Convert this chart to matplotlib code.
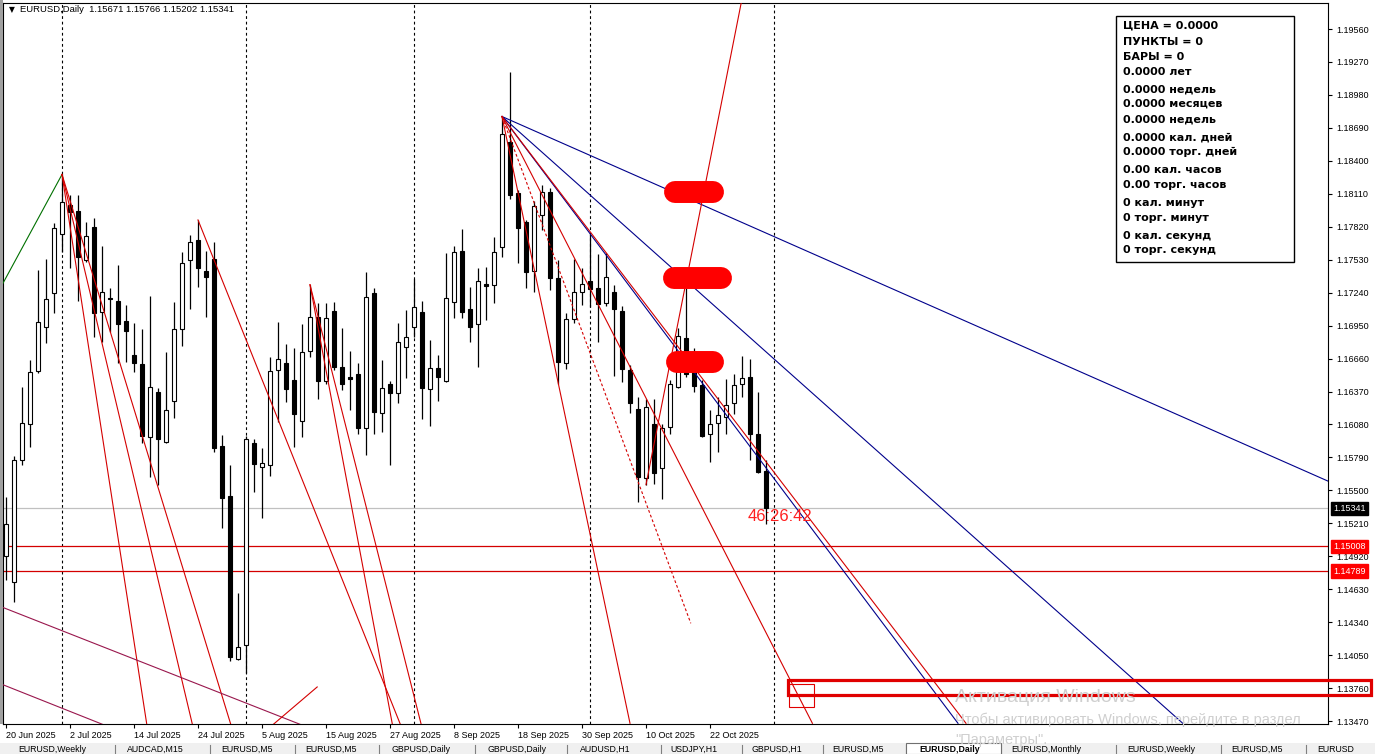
import matplotlib
matplotlib.use('Agg')
import matplotlib.pyplot as plt
import matplotlib.transforms as mtransforms
from matplotlib.patches import Rectangle
import pandas as pd

plt.rcParams['font.family'] = ['Liberation Sans', 'DejaVu Sans']

# daily candles EURUSD, first bar = 20 Jun 2025
opens = [1.1492, 1.1469, 1.1577, 1.1608, 1.1655, 1.1694, 1.1724, 1.1776, 1.1801, 1.1796,
         1.1753, 1.1782, 1.1707, 1.1719, 1.1717, 1.1699, 1.1669, 1.1661, 1.1597, 1.1637,
         1.1593, 1.1629, 1.1692, 1.1753, 1.1770, 1.1743, 1.1754, 1.1589, 1.1545, 1.1402,
         1.1414, 1.1592, 1.1571, 1.1572, 1.1656, 1.1662, 1.1647, 1.1611, 1.1673, 1.1703,
         1.1646, 1.1708, 1.1659, 1.1650, 1.1652, 1.1605, 1.1724, 1.1618, 1.1644, 1.1636,
         1.1676, 1.1694, 1.1707, 1.1639, 1.1658, 1.1646, 1.1716, 1.1761, 1.1710, 1.1696,
         1.1732, 1.1731, 1.1764, 1.1857, 1.1812, 1.1786, 1.1743, 1.1792, 1.1813, 1.1737,
         1.1662, 1.1701, 1.1725, 1.1734, 1.1728, 1.1715, 1.1725, 1.1708, 1.1656, 1.1622,
         1.1561, 1.1608, 1.1570, 1.1606, 1.1641, 1.1684, 1.1654, 1.1643, 1.1600, 1.1609,
         1.1615, 1.1627, 1.1644, 1.1650, 1.1600, 1.15671]
highs = [1.1544, 1.1580, 1.1641, 1.1665, 1.1744, 1.1754, 1.1785, 1.1828, 1.1810, 1.1810,
         1.1786, 1.1790, 1.1765, 1.1728, 1.1748, 1.1713, 1.1697, 1.1692, 1.1721, 1.1640,
         1.1672, 1.1716, 1.1760, 1.1775, 1.1788, 1.1761, 1.1769, 1.1599, 1.1572, 1.1460,
         1.1598, 1.1595, 1.1587, 1.1667, 1.1698, 1.1679, 1.1675, 1.1696, 1.1731, 1.1715,
         1.1715, 1.1716, 1.1693, 1.1673, 1.1662, 1.1742, 1.1728, 1.1665, 1.1646, 1.1697,
         1.1709, 1.1736, 1.1717, 1.1682, 1.1669, 1.1759, 1.1765, 1.1780, 1.1729, 1.1746,
         1.1747, 1.1773, 1.1879, 1.1918, 1.1814, 1.1788, 1.1805, 1.1819, 1.1816, 1.1753,
         1.1706, 1.1754, 1.1746, 1.1776, 1.1758, 1.1759, 1.1731, 1.1712, 1.1660, 1.1632,
         1.1630, 1.1630, 1.1608, 1.1647, 1.1693, 1.1728, 1.1675, 1.1647, 1.1621, 1.1632,
         1.1648, 1.1652, 1.1668, 1.1666, 1.1637, 1.15766]
lows = [1.1471, 1.1452, 1.1572, 1.1588, 1.1653, 1.1680, 1.1706, 1.1760, 1.1746, 1.1717,
        1.1751, 1.1685, 1.1681, 1.1689, 1.1662, 1.1663, 1.1654, 1.1592, 1.1562, 1.1555,
        1.1592, 1.1614, 1.1677, 1.1710, 1.1729, 1.1703, 1.1584, 1.1517, 1.1400, 1.1401,
        1.1389, 1.1549, 1.1526, 1.1563, 1.1610, 1.1628, 1.1588, 1.1597, 1.1667, 1.1630,
        1.1644, 1.1656, 1.1638, 1.1621, 1.1600, 1.1581, 1.1600, 1.1601, 1.1572, 1.1627,
        1.1649, 1.1685, 1.1613, 1.1607, 1.1629, 1.1645, 1.1702, 1.1702, 1.1681, 1.1659,
        1.1700, 1.1715, 1.1755, 1.1806, 1.1750, 1.1728, 1.1725, 1.1779, 1.1726, 1.1644,
        1.1657, 1.1697, 1.1713, 1.1711, 1.1681, 1.1712, 1.1651, 1.1645, 1.1618, 1.1540,
        1.1555, 1.1556, 1.1542, 1.1600, 1.1640, 1.1650, 1.1637, 1.1597, 1.1575, 1.1584,
        1.1600, 1.1617, 1.1632, 1.1577, 1.1565, 1.15202]
closes = [1.1520, 1.1577, 1.1609, 1.1654, 1.1698, 1.1718, 1.1781, 1.1804, 1.1795, 1.1755,
          1.1774, 1.1706, 1.1725, 1.1718, 1.1696, 1.1690, 1.1662, 1.1598, 1.1641, 1.1595,
          1.1621, 1.1692, 1.1750, 1.1769, 1.1746, 1.1738, 1.1587, 1.1543, 1.1403, 1.1412,
          1.1595, 1.1573, 1.1574, 1.1655, 1.1666, 1.1639, 1.1617, 1.1672, 1.1703, 1.1646,
          1.1702, 1.1659, 1.1644, 1.1648, 1.1605, 1.1720, 1.1619, 1.1640, 1.1636, 1.1681,
          1.1685, 1.1711, 1.1640, 1.1658, 1.1650, 1.1719, 1.1760, 1.1707, 1.1694, 1.1734,
          1.1730, 1.1760, 1.1864, 1.1810, 1.1781, 1.1742, 1.1800, 1.1813, 1.1737, 1.1663,
          1.1701, 1.1725, 1.1732, 1.1727, 1.1714, 1.1738, 1.1710, 1.1657, 1.1627, 1.1562,
          1.1623, 1.1565, 1.1605, 1.1644, 1.1686, 1.1652, 1.1642, 1.1598, 1.1608, 1.1616,
          1.1625, 1.1643, 1.1649, 1.1600, 1.1566, 1.15341]

price_ticks = [1.19560, 1.19270, 1.18980, 1.18690, 1.18400, 1.18110, 1.17820, 1.17530,
               1.17240, 1.16950, 1.16660, 1.16370, 1.16080, 1.15790, 1.15500, 1.15210,
               1.14920, 1.14630, 1.14340, 1.14050, 1.13760, 1.13470]
last_price = 1.15341
red_levels = [1.15008, 1.14789]

# trend lines: (bar0, price0, bar1, price1, color, style)
RED = '#d40000'
BLUE = '#00008b'
trend_lines = [
    (-0.4, 1.1732, 7, 1.1828, '#007000', '-'),
    (7, 1.1828, 17.6, 1.1344, RED, '-'),
    (7, 1.1828, 23.3, 1.1344, RED, '-'),
    (7, 1.1828, 28.1, 1.1344, RED, '-'),
    (24, 1.1788, 49.3, 1.1344, RED, '-'),
    (38, 1.1731, 48.3, 1.1344, RED, '-'),
    (38, 1.1731, 51.9, 1.1344, RED, '-'),
    (-0.4, 1.1447, 36.8, 1.1344, '#99174d', '-'),
    (-0.4, 1.1379, 12.1, 1.1344, '#99174d', '-'),
    (33.4, 1.1344, 38.9, 1.1377, RED, '-'),
    (62, 1.1879, 165.3, 1.1558, BLUE, '-'),
    (62, 1.1879, 147.1, 1.1345, BLUE, '-'),
    (62, 1.1879, 119, 1.1345, BLUE, '-'),
    (62, 1.1879, 120, 1.1345, RED, '-'),
    (62, 1.1879, 100.8, 1.1345, RED, '-'),
    (62, 1.1879, 78, 1.1345, RED, '-'),
    (62, 1.1879, 85.6, 1.1433, RED, (0, (2.5, 2))),
    (80, 1.1555, 91.9, 1.1979, RED, '-'),
]
# thick red marks (bar from, bar to, price)
pill_from = [83.6, 83.5, 83.9]
pill_to = [88.4, 89.4, 88.4]
pill_price = [1.1813, 1.1737, 1.1663]

info_lines = ['ЦЕНА = 0.0000', 'ПУНКТЫ = 0', 'БАРЫ = 0', '0.0000 лет', '0.0000 недель',
              '0.0000 месяцев', '0.0000 недель', '0.0000 кал. дней', '0.0000 торг. дней',
              '0.00 кал. часов', '0.00 торг. часов', '0 кал. минут', '0 торг. минут',
              '0 кал. секунд', '0 торг. секунд']
info_y = [26, 42, 57, 72, 89, 104, 119, 137, 152, 170, 185, 203, 218, 236, 250]

tabs = ['EURUSD,Weekly', 'AUDCAD,M15', 'EURUSD,M5', 'EURUSD,M5', 'GBPUSD,Daily',
        'GBPUSD,Daily', 'AUDUSD,H1', 'USDJPY,H1', 'GBPUSD,H1', 'EURUSD,M5',
        'EURUSD,Daily', 'EURUSD,Monthly', 'EURUSD,Weekly', 'EURUSD,M5', 'EURUSD']
tab_x = [18, 127, 221, 305, 391, 487, 580, 670, 751, 832, 919, 1011, 1127, 1231, 1317]
tab_sep = [115, 210, 295, 379, 475, 567, 661, 742, 823, 906, 1001, 1116, 1221, 1306]

W, H = 1375, 754
fig = plt.figure(figsize=(W / 100, H / 100), dpi=100)
fig.patch.set_facecolor('white')


def fx(px):
    return px / W


def fy(py):
    return 1 - py / H


ax = fig.add_axes([fx(3), 30 / H, 1325 / W, 721 / H])
ax.set_xlim(-0.375, 165.25)
ax.set_ylim(1.13444, 1.19789)

n = len(opens)
dates = pd.bdate_range('2025-06-20', periods=n + 1)
idx = list(range(n))

# month separators
for i in range(1, n + 1):
    if dates[i].month != dates[i - 1].month:
        ax.axvline(i, color='black', lw=0.8, ls=(0, (2.5, 2.5)), zorder=1)

ax.axhline(last_price, color='#c0c0c0', lw=0.9, zorder=1)
for lv in red_levels:
    ax.axhline(lv, color=RED, lw=0.9, zorder=1)

# candles
ax.vlines(idx, lows, highs, color='black', lw=0.9, zorder=3)
bottoms = [min(o, c) for o, c in zip(opens, closes)]
heights = [max(abs(c - o), 0.00002) for o, c in zip(opens, closes)]
faces = ['white' if c >= o else 'black' for o, c in zip(opens, closes)]
ax.bar(idx, heights, bottom=bottoms, width=0.55, color=faces, edgecolor='black',
       linewidth=0.8, zorder=4)

for x0, p0, x1, p1, col, ls in trend_lines:
    ax.plot([x0, x1], [p0, p1], color=col, lw=0.8, ls=ls, zorder=5)

for a, b, p in zip(pill_from, pill_to, pill_price):
    ax.plot([a, b], [p, p], color='#ff0000', lw=15.8, solid_capstyle='round', zorder=6)

# rectangles near 1.13760
ax.add_patch(Rectangle((97.75, 1.1370), 72.9, 0.0013, fill=False, ec='#e00000', lw=2.3,
                       clip_on=False, zorder=7))
ax.add_patch(Rectangle((97.9, 1.1359), 3.1, 0.0021, fill=False, ec='#e00000', lw=0.8,
                       zorder=7))

ax.text(96.75, 1.1527, '46:26:42', color='#ff2020', fontsize=12, ha='center', va='center',
        zorder=8)

# axes styling
for s in ax.spines.values():
    s.set_color('black')
    s.set_linewidth(0.8)
ax.yaxis.tick_right()
ax.set_yticks(price_ticks)
ax.set_yticklabels([f'{v:.5f}' for v in price_ticks])
ax.tick_params(axis='y', length=3, pad=3, labelsize=6.5, width=0.8)
xt = list(range(0, 89, 8))
ax.set_xticks(xt)
ax.set_xticklabels([f'{dates[i].day} {dates[i].strftime("%b %Y")}' for i in xt], ha='left')
ax.tick_params(axis='x', length=3, pad=2, labelsize=6.5, width=0.8)

# price labels on the axis
trans = mtransforms.blended_transform_factory(ax.transAxes, ax.transData)
ax.text(1.0038, last_price, f'{last_price:.5f}', transform=trans, color='white', fontsize=6.5,
        va='center', ha='left', clip_on=False, zorder=9,
        bbox=dict(boxstyle='square,pad=0.25', fc='black', ec='black'))
for lv in red_levels:
    ax.text(1.0038, lv, f'{lv:.5f}', transform=trans, color='white', fontsize=6.5,
            va='center', ha='left', clip_on=False, zorder=9,
            bbox=dict(boxstyle='square,pad=0.25', fc='#ff0000', ec='#ff0000'))

# header
fig.text(fx(9), fy(10), '▼', fontsize=5.5, va='center', family='DejaVu Sans')
fig.text(fx(20), fy(10), 'EURUSD,Daily  1.15671 1.15766 1.15202 1.15341', fontsize=6.8,
         va='center')

# left window edge
fig.patches.append(Rectangle((0, fy(724)), fx(2.5), (724 - 0) / H, transform=fig.transFigure,
                             fc='#a0a0a0', ec='none', zorder=1))

# info box
fig.patches.append(Rectangle((fx(1116), fy(262)), (1294 - 1116) / W, (262 - 16) / H,
                             transform=fig.transFigure, fc='white', ec='black', lw=1,
                             zorder=10))
for t, y in zip(info_lines, info_y):
    fig.text(fx(1123), fy(y), t, fontsize=8.0, fontweight='heavy', family='DejaVu Sans',
             va='center', zorder=11)

# windows watermark
fig.text(fx(955), fy(698), 'Активация Windows', fontsize=14, color='#cfcfcf', va='center',
         zorder=12)
fig.text(fx(955), fy(720), 'Чтобы активировать Windows, перейдите в раздел', fontsize=10.5,
         color='#cfcfcf', va='center', zorder=12)
fig.text(fx(955), fy(740), '"Параметры".', fontsize=10.5, color='#cfcfcf', va='center',
         zorder=12)

# tab bar
fig.patches.append(Rectangle((0, 0), 1, fy(743), transform=fig.transFigure, fc='#f0f0f0',
                             ec='none', zorder=1))
fig.patches.append(Rectangle((fx(906), 0), (1001 - 906) / W, fy(743), transform=fig.transFigure,
                             fc='white', ec='#707070', lw=0.8, zorder=2))
for sx in tab_sep:
    fig.add_artist(plt.Line2D([fx(sx), fx(sx)], [0, fy(745)], color='#808080', lw=0.8))
for t, x in zip(tabs, tab_x):
    fig.text(fx(x), fy(749), t, fontsize=6.3, va='center', color='black',
             fontweight='bold' if x == 919 else 'normal')

fig.savefig('out.png', dpi=100)
